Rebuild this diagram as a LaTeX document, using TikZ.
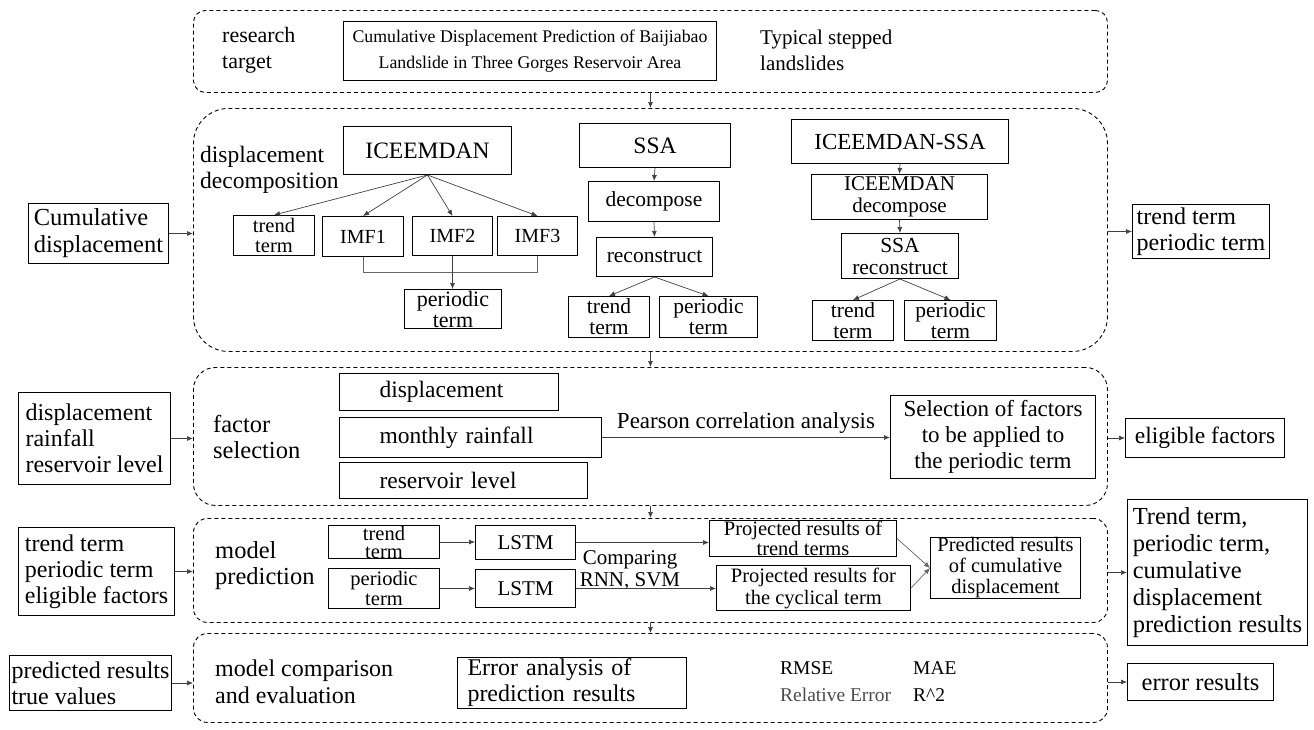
\documentclass[tikz,border=0pt]{standalone}
\usepackage{fontspec}
\setmainfont{Liberation Serif}
\usetikzlibrary{arrows.meta}
\newcommand\myfs[2]{\fontsize{#1}{#2}\selectfont}
\begin{document}
\begin{tikzpicture}[x=1pt,y=-1pt,
  sec/.style={draw, dash pattern=on 4pt off 3pt, line width=0.9pt, anchor=north west, inner sep=0pt},
  box/.style={draw, line width=1pt, inner sep=0pt, align=center, anchor=north west, font=\myfs{21}{25}},
  lbox/.style={box, align=left},
  lbl/.style={inner sep=0pt, align=left, anchor=west, font=\myfs{23}{26}},
  arr/.style={draw=black!75, line width=0.7pt, -{Latex[length=6pt,width=5pt]}},
  ln/.style={draw=black!60, line width=0.7pt}]
\useasboundingbox (0,0) rectangle (1314,729);

% ---------- section 1
\node[sec, rounded corners=12pt, minimum width=914, minimum height=82] (s1) at (193,10) {};
\node[lbl, font=\myfs{22}{26}] (rt) at (222,50) {research\\target};
\node[box, minimum width=373, minimum height=59, font=\myfs{17.8}{26}] (title) at (343,21) {Cumulative Displacement Prediction of Baijiabao\\Landslide in Three Gorges Reservoir Area};
\node[lbl, font=\myfs{21}{26}] (typ) at (760,50) {Typical stepped\\landslides};

% ---------- section 2
\node[sec, rounded corners=35pt, minimum width=914, minimum height=243] (s2) at (193,108) {};
\node[lbox, minimum width=140, minimum height=60, font=\myfs{24.5}{27}, inner xsep=5pt] (cum) at (28,203) {Cumulative\\displacement};
\node[lbl, font=\myfs{23.5}{26}] (dd) at (200,170) {displacement\\decomposition};
\node[box, minimum width=168, minimum height=48, font=\myfs{23.5}{26}] (ice) at (343,126) {ICEEMDAN};
\node[box, minimum width=81, minimum height=40, font=\myfs{20.5}{20}] (tt1) at (233,215) {trend\\term};
\node[box, minimum width=81, minimum height=40, font=\myfs{20}{24}] (imf1) at (322,216) {IMF1};
\node[box, minimum width=80, minimum height=39, font=\myfs{20}{24}] (imf2) at (412,216) {IMF2};
\node[box, minimum width=80, minimum height=39, font=\myfs{20}{24}] (imf3) at (497,216) {IMF3};
\node[box, minimum width=97, minimum height=39, font=\myfs{22}{21}] (per1) at (404,289) {periodic\\term};
\draw[arr] (ice.south) -- (tt1.north);
\draw[arr] (ice.south) -- (imf1.north);
\draw[arr] (ice.south) -- (imf2.north);
\draw[arr] (ice.south) -- (imf3.north);
\draw[ln] (imf1.south) -- (imf1.south |- 0,272) -- (imf3.south |- 0,272) -- (imf3.south);
\draw[arr] (imf2.south) -- (imf2.south |- per1.north);

\node[box, minimum width=151, minimum height=44, font=\myfs{23.5}{26}] (ssa) at (579,123) {SSA};
\node[box, minimum width=131, minimum height=40, font=\myfs{21.5}{25}] (dec) at (588,181) {decompose};
\node[box, minimum width=116, minimum height=39, font=\myfs{21.5}{25}] (rec) at (596,237) {reconstruct};
\node[box, minimum width=81, minimum height=41, font=\myfs{21.5}{21}] (tt2) at (568,296) {trend\\term};
\node[box, minimum width=98, minimum height=41, font=\myfs{21.5}{21}] (per2) at (659,296) {periodic\\term};
\draw[arr] (ssa.south) -- (dec.north);
\draw[arr] (dec.south) -- (rec.north);
\draw[arr] (rec.south) -- (tt2.north);
\draw[arr] (rec.south) -- (per2.north);

\node[box, minimum width=217, minimum height=44, font=\myfs{23}{26}] (ices) at (791,119) {ICEEMDAN-SSA};
\node[box, minimum width=176, minimum height=45, font=\myfs{21}{22}] (idec) at (811,174) {ICEEMDAN\\decompose};
\node[box, minimum width=117, minimum height=45, font=\myfs{21.5}{22}] (srec) at (841,233) {SSA\\reconstruct};
\node[box, minimum width=81, minimum height=40, font=\myfs{21.5}{21}] (tt3) at (812,300) {trend\\term};
\node[box, minimum width=92, minimum height=40, font=\myfs{21.5}{21}] (per3) at (904,300) {periodic\\term};
\draw[arr] (ices.south) -- (idec.north);
\draw[arr] (idec.south) -- (srec.north);
\draw[arr] (srec.south) -- (tt3.north);
\draw[arr] (srec.south) -- (per3.north);

\node[lbox, minimum width=137, minimum height=54, font=\myfs{24}{26}, inner xsep=4pt] (out2) at (1132,204) {trend term\\periodic term};

% ---------- section 3
\node[sec, rounded corners=22pt, minimum width=914, minimum height=138] (s3) at (193,367) {};
\node[lbox, minimum width=152, minimum height=92, font=\myfs{24}{26}, inner xsep=5pt] (inp3) at (18,392) {displacement\\rainfall\\reservoir level};
\node[lbl, font=\myfs{24.5}{26}] (fs) at (213,437) {factor\\selection};
\node[box, minimum height=37, text width=139, inner xsep=40pt, align=left, font=\myfs{23.5}{26}] (disp) at (339,373) {displacement};
\node[box, minimum height=40, text width=182, inner xsep=40pt, align=left, font=\myfs{23.5}{26}] (mrain) at (339,417) {monthly rainfall};
\node[box, minimum height=36, text width=168, inner xsep=40pt, align=left, font=\myfs{23.5}{26}] (rlev) at (339,462) {reservoir level};
\node[box, minimum width=205, minimum height=83, font=\myfs{23}{26}] (sel) at (890,395) {Selection of factors\\to be applied to\\the periodic term};
\draw[arr] (mrain.east) -- (mrain.east -| sel.west) node[midway, above=4pt, inner sep=0pt, font=\myfs{23}{26}, black] (pear) {Pearson correlation analysis};
\node[box, minimum width=159, minimum height=39, font=\myfs{23.5}{26}] (elig) at (1125,418) {eligible factors};

% ---------- section 4
\node[sec, rounded corners=14pt, minimum width=914, minimum height=104] (s4) at (193,518) {};
\node[lbox, minimum width=156, minimum height=88, font=\myfs{24}{26}, inner xsep=5pt] (inp4) at (18,527) {trend term\\periodic term\\eligible factors};
\node[lbl, font=\myfs{24.5}{26}] (mp) at (215,566) {model\\prediction};
\node[box, minimum width=111, minimum height=33, font=\myfs{20.5}{18}] (ttb) at (328,525) {trend\\term};
\node[box, minimum width=111, minimum height=40, font=\myfs{20.5}{20}] (pb) at (328,568) {periodic\\term};
\node[box, minimum width=100, minimum height=34, font=\myfs{21}{24}] (lstm1) at (475,525) {LSTM};
\node[box, minimum width=100, minimum height=38, font=\myfs{21}{24}] (lstm2) at (475,569) {LSTM};
\node[inner sep=0pt, align=center, font=\myfs{21}{22}] (cmp) at (630,570) {Comparing\\RNN, SVM};
\node[box, minimum width=187, minimum height=36, font=\myfs{20.5}{20}] (proj1) at (709,520) {Projected results of\\trend terms};
\node[box, minimum width=194, minimum height=45, font=\myfs{20.5}{22}] (proj2) at (716,565) {Projected results for\\the cyclical term};
\node[box, minimum width=150, minimum height=61, font=\myfs{20.5}{21}] (pred) at (930,537) {Predicted results\\of cumulative\\displacement};
\draw[arr] (ttb.east) -- (ttb.east -| lstm1.west);
\draw[arr] (pb.east) -- (pb.east -| lstm2.west);
\draw[arr] (lstm1.east) -- (lstm1.east -| proj1.west);
\draw[arr] (lstm2.east) -- (lstm2.east -| proj2.west);
\draw[ln, -{Latex[length=6pt,width=5pt]}] (proj1.east) -- (pred.west);
\draw[ln, -{Latex[length=6pt,width=5pt]}] (proj2.east) -- (pred.west);
\node[lbox, minimum width=180, minimum height=146, font=\myfs{24.5}{27}, inner xsep=4pt] (out4) at (1127,499) {Trend term,\\periodic term,\\cumulative\\displacement\\prediction results};

% ---------- section 5
\node[sec, rounded corners=14pt, minimum width=914, minimum height=89] (s5) at (193,633) {};
\node[lbox, minimum width=162, minimum height=55, font=\myfs{24}{26}, inner xsep=2pt] (inp5) at (9,655) {predicted results\\true values};
\node[lbl, font=\myfs{24}{27}] (mce) at (215,682) {model comparison\\and evaluation};
\node[box, minimum height=51, text width=209, inner xsep=10pt, align=left, font=\myfs{24}{26}] (err) at (457,657) {Error analysis of\\prediction results};
\node[lbl, font=\myfs{19.5}{26}] (rmse) at (780,668) {RMSE};
\node[lbl, font=\myfs{19.5}{26}] (mae) at (913,668) {MAE};
\node[lbl, font=\myfs{19.5}{26}, black!70] (relerr) at (780,695) {Relative Error};
\node[lbl, font=\myfs{19.5}{26}] (r2) at (913,695) {R\textasciicircum2};
\node[box, minimum width=146, minimum height=37, font=\myfs{24.5}{26}] (errres) at (1127,663) {error results};

% ---------- between sections
\draw[arr] (s1.south) -- (s2.north);
\draw[arr] (s2.south) -- (s3.north);
\draw[arr] (s3.south) -- (s4.north);
\draw[arr] (s4.south) -- (s5.north);

% ---------- inputs and outputs
\draw[arr] (cum.east) -- (cum.east -| s2.west);
\draw[arr] (inp3.east) -- (inp3.east -| s3.west);
\draw[arr] (inp4.east) -- (inp4.east -| s4.west);
\draw[arr] (inp5.east) -- (inp5.east -| s5.west);
\draw[arr] (out2.west -| s2.east) -- (out2.west);
\draw[arr] (elig.west -| s3.east) -- (elig.west);
\draw[arr] (out4.west -| s4.east) -- (out4.west);
\draw[arr] (errres.west -| s5.east) -- (errres.west);
\end{tikzpicture}
\end{document}
